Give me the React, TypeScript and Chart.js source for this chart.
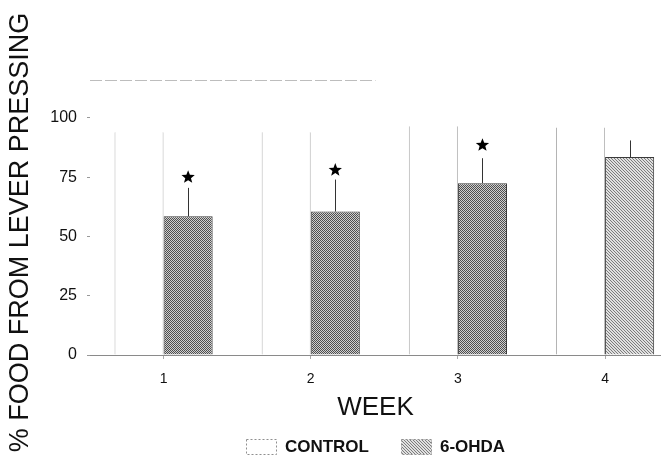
import React, { useEffect, useRef } from 'react';
import { Chart, registerables } from 'chart.js';

Chart.register(...registerables);

// ---- data ----
const weeks = [1, 2, 3, 4];
const controlValues = [94, 94, 96.5, 96];
const ohdaValues = [58.5, 60.5, 72.5, 83.5];
const ohdaErrorTop = [70.5, 74, 83, 90.5];
const starValues: (number | null)[] = [75, 78, 88.5, null];
const yTicks = [0, 25, 50, 75, 100];
const seriesNames = ['CONTROL', '6-OHDA'];
const yMax = 116;
const xMin = 0.5;
const xMax = 4.38;

const FONT = '"Liberation Sans", Arial, Helvetica, sans-serif';

function makePattern(dark: string, light: string, isDark: (x: number, y: number) => boolean, size = 4) {
  const c = document.createElement('canvas');
  c.width = size;
  c.height = size;
  const g = c.getContext('2d')!;
  g.fillStyle = light;
  g.fillRect(0, 0, size, size);
  g.fillStyle = dark;
  for (let y = 0; y < size; y++) {
    for (let x = 0; x < size; x++) {
      if (isDark(x, y)) g.fillRect(x, y, 1, 1);
    }
  }
  return g.createPattern(c, 'repeat') as CanvasPattern;
}

function drawStar(ctx: CanvasRenderingContext2D, cx: number, cy: number, ro: number, ri: number) {
  ctx.beginPath();
  for (let k = 0; k < 10; k++) {
    const r = k % 2 === 0 ? ro : ri;
    const a = -Math.PI / 2 + (k * Math.PI) / 5;
    const px = cx + r * Math.cos(a);
    const py = cy + r * Math.sin(a);
    if (k === 0) ctx.moveTo(px, py);
    else ctx.lineTo(px, py);
  }
  ctx.closePath();
  ctx.fillStyle = '#000';
  ctx.fill();
}

function makeOverlay(legendFills: (string | CanvasPattern)[]) {
  return {
    id: 'overlay',
    afterDatasetsDraw(chart: any) {
      const ctx: CanvasRenderingContext2D = chart.ctx;
      const meta = chart.getDatasetMeta(1);
      const ys = chart.scales.y;
      ctx.save();
      meta.data.forEach((bar: any, i: number) => {
        const x = Math.round(bar.x) + 0.5;
        const top = ys.getPixelForValue(ohdaValues[i]);
        const errY = ys.getPixelForValue(ohdaErrorTop[i]);
        ctx.strokeStyle = '#333';
        ctx.lineWidth = 1;
        ctx.beginPath();
        ctx.moveTo(x, top);
        ctx.lineTo(x, errY);
        ctx.stroke();
        const s = starValues[i];
        if (s != null) drawStar(ctx, bar.x, ys.getPixelForValue(s), 7, 3);
      });
      const a = chart.chartArea;
      ctx.strokeStyle = '#bdbdbd';
      ctx.lineWidth = 1;
      ctx.setLineDash([12, 3]);
      ctx.beginPath();
      ctx.moveTo(a.left, Math.round(a.top) + 0.5);
      ctx.lineTo((a.left + a.right) / 2, Math.round(a.top) + 0.5);
      ctx.stroke();
      ctx.restore();
    },
    afterDraw(chart: any) {
      // legend, centred under the plot area
      const ctx: CanvasRenderingContext2D = chart.ctx;
      const a = chart.chartArea;
      const boxW = 30;
      const boxH = 15;
      const gapBox = 9;
      const gapItem = 32;
      ctx.save();
      ctx.font = `bold 17px ${FONT}`;
      ctx.textBaseline = 'middle';
      const widths = seriesNames.map((t) => ctx.measureText(t).width);
      const total = widths.reduce((s, w) => s + boxW + gapBox + w, 0) + gapItem * (seriesNames.length - 1);
      let x = (a.left + a.right) / 2 - total / 2;
      const cy = chart.height - 12;
      seriesNames.forEach((t, i) => {
        const bx = Math.round(x) + 0.5;
        const by = Math.round(cy - boxH / 2) + 0.5;
        ctx.fillStyle = legendFills[i] as any;
        ctx.fillRect(bx, by, boxW, boxH);
        ctx.setLineDash([2, 2]);
        ctx.strokeStyle = '#8f8f8f';
        ctx.lineWidth = 1;
        ctx.strokeRect(bx, by, boxW, boxH);
        ctx.setLineDash([]);
        ctx.fillStyle = '#111';
        ctx.fillText(t, x + boxW + gapBox, cy + 1);
        x += boxW + gapBox + widths[i] + gapItem;
      });
      ctx.restore();
    },
  };
}

export default function App() {
  const ref = useRef<HTMLCanvasElement>(null);

  useEffect(() => {
    document.body.style.margin = '0';
    const canvas = ref.current!;
    const dark = makePattern('#4e4e4e', '#cfcfcf', (x, y) => (x + y) % 2 === 0, 2);
    const light = makePattern('#7c7c7c', '#e0e0e0', (x, y) => (x + 2 * y) % 3 === 0, 3);
    const ohdaFill = ohdaValues.map((_, i) => (i === 3 ? light : dark));

    const chart = new Chart(canvas, {
      type: 'bar',
      data: {
        datasets: [
          {
            label: seriesNames[0],
            data: weeks.map((w, i) => ({ x: w, y: controlValues[i] })),
            backgroundColor: '#ffffff',
            borderColor: '#b4b4b4',
            borderWidth: { left: 1, right: 1, top: 0, bottom: 0 },
            borderSkipped: false,
            categoryPercentage: 0.667,
            barPercentage: 1,
          },
          {
            label: seriesNames[1],
            data: weeks.map((w, i) => ({ x: w, y: ohdaValues[i] })),
            backgroundColor: ohdaFill,
            borderColor: '#3a3a3a',
            borderWidth: 1,
            borderSkipped: 'bottom',
            categoryPercentage: 0.667,
            barPercentage: 1,
          },
        ],
      } as any,
      options: {
        animation: false,
        responsive: false,
        layout: { padding: { top: 80, right: 0, left: 0, bottom: 26 } },
        scales: {
          x: {
            type: 'linear',
            min: xMin,
            max: xMax,
            offset: false,
            afterBuildTicks: (s: any) => {
              s.ticks = weeks.map((v) => ({ value: v }));
            },
            afterFit: (s: any) => {
              s.height = 77;
            },
            ticks: {
              color: '#111',
              font: { family: FONT, size: 14 },
              padding: 12,
              callback: (v: any) => String(v),
              maxRotation: 0,
              autoSkip: false,
            },
            grid: { display: true, offset: false, drawOnChartArea: false, drawTicks: true, tickLength: 4, color: '#aaa' },
            border: { display: true, color: '#8a8a8a', dash: [5, 3] },
            title: {
              display: true,
              text: 'WEEK',
              color: '#111',
              font: { family: FONT, size: 26 },
              padding: { top: 0, bottom: 9 },
            },
          },
          y: {
            min: 0,
            max: yMax,
            afterBuildTicks: (s: any) => {
              s.ticks = yTicks.map((v) => ({ value: v }));
            },
            afterFit: (s: any) => {
              s.width = 90;
            },
            ticks: {
              color: '#111',
              font: { family: FONT, size: 16 },
              padding: 10,
            },
            grid: { display: true, drawOnChartArea: false, drawTicks: true, tickLength: 3, color: '#999' },
            border: { display: false },
            title: {
              display: true,
              text: '% FOOD FROM LEVER PRESSING    ',
              color: '#111',
              font: { family: FONT, size: 27 },
              padding: { top: 4, bottom: 0 },
            },
          },
        },
        plugins: {
          tooltip: { enabled: false },
          legend: { display: false },
        },
      } as any,
      plugins: [makeOverlay(['#ffffff', light])],
    });
    return () => chart.destroy();
  }, []);

  return (
    <div style={{ width: 661, height: 458 }}>
      <canvas ref={ref} width={661} height={458} style={{ display: 'block' }} />
    </div>
  );
}
